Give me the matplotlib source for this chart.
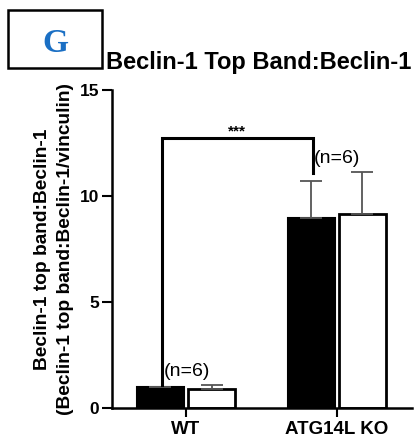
import numpy as np
import matplotlib.pyplot as plt
from matplotlib.patches import Rectangle

# data
groups = ["WT", "ATG14L KO"]
black_vals = [1.0, 8.95]
black_err = [0.0, 1.75]
white_vals = [0.9, 9.15]
white_err = [0.18, 2.0]
n_labels = ["(n=6)", "(n=6)"]
bracket_y = 12.75

plt.rcParams['font.family'] = ['Liberation Sans', 'DejaVu Sans']

fig = plt.figure(figsize=(4.16, 4.41), dpi=100)
ax = fig.add_axes([0.269, 0.0748, 0.721, 0.721])

x = np.arange(len(groups))
w = 0.31
off = 0.17

ax.bar(x - off, black_vals, w, color="black", edgecolor="black", linewidth=1.5)
ax.bar(x + off, white_vals, w, color="white", edgecolor="black", linewidth=2)
ax.errorbar(x - off, black_vals, yerr=[np.zeros(2), black_err], fmt="none",
            ecolor="#555555", elinewidth=1.3, capsize=8, capthick=1.3)
ax.errorbar(x + off, white_vals, yerr=[np.zeros(2), white_err], fmt="none",
            ecolor="#555555", elinewidth=1.3, capsize=8, capthick=1.3)

# significance bracket
xl = x[0] - 0.16
xr = x[1] - 0.16
ax.plot([xl, xl, xr, xr], [1.1, bracket_y, bracket_y, 11.1], color="black",
        linewidth=2.2, solid_joinstyle="miter")
ax.text((xl + xr) / 2, bracket_y + 0.3, "***", ha="center", va="center",
        fontsize=11, fontweight="bold")

ax.text(x[0] + 0.01, 1.7, n_labels[0], ha="center", va="center", fontsize=14)
ax.text(x[1] + 0.0, 11.75, n_labels[1], ha="center", va="center", fontsize=14)

ax.set_xlim(-0.49, 1.497)
ax.set_ylim(0, 15)
ax.set_yticks([0, 5, 10, 15])
ax.set_xticks(x)
ax.set_xticklabels(groups, fontsize=13.5, fontweight="bold")
ax.tick_params(axis="y", labelsize=12.5, width=1.5, length=7, pad=2)
ax.tick_params(axis="x", width=1.5, length=6.5, pad=3)
for lab in ax.get_yticklabels():
    lab.set_fontweight("bold")
for s in ["top", "right"]:
    ax.spines[s].set_visible(False)
for s in ["left", "bottom"]:
    ax.spines[s].set_linewidth(1.8)

ax.set_ylabel("Beclin-1 top band:Beclin-1\n(Beclin-1 top band:Beclin-1/vinculin)",
              fontsize=13.8, fontweight="bold", labelpad=4, linespacing=1.5)

fig.text(0.988, 1 - 62 / 441, "Beclin-1 Top Band:Beclin-1", ha="right", va="center",
         fontsize=17, fontweight="bold")

# panel label box
fig.patches.append(Rectangle((8 / 416, 1 - 68 / 441), 94 / 416, 58 / 441,
                             transform=fig.transFigure, fill=False,
                             edgecolor="black", linewidth=1.8))
fig.text(55 / 416, 1 - 43 / 441, "G", ha="center", va="center", fontsize=24,
         fontweight="bold", color="#1a6fc4", family="Liberation Serif")

fig.savefig("out.png", dpi=100)
